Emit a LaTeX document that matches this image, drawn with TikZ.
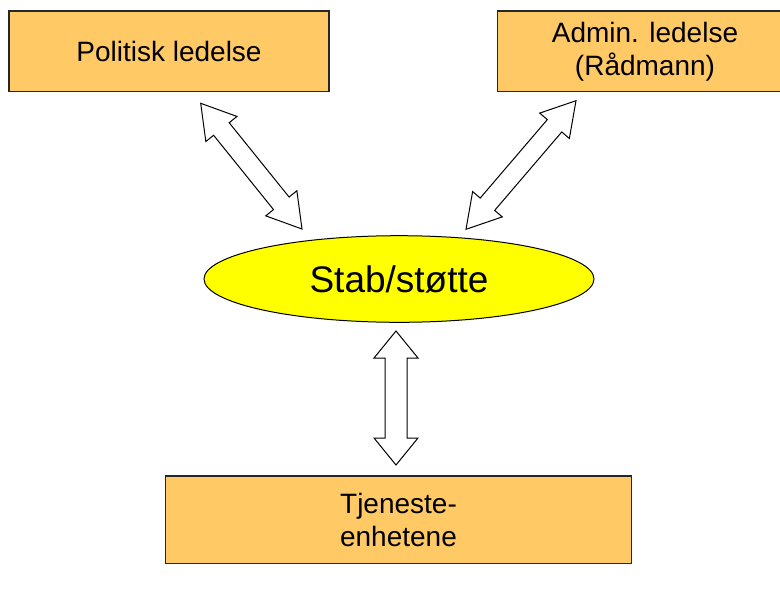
\documentclass[tikz,border=0pt]{standalone}
\usepackage{fontspec}
\setmainfont{Liberation Sans}
\usetikzlibrary{shapes.geometric,calc}
\definecolor{boxfill}{HTML}{FFC966}
\definecolor{ellfill}{HTML}{FFFF00}
\tikzset{
  orgbox/.style={draw=black!85, line width=1.2pt, fill=boxfill, inner sep=0pt,
    align=center, font=\fontsize{28}{33}\selectfont},
  stabell/.style={ellipse, draw=black, line width=1pt, fill=ellfill, inner sep=0pt,
    minimum width=390pt, minimum height=86.6pt, font=\fontsize{37}{40}\selectfont},
  hollowarrow/.style={draw=black, line width=1pt, fill=white, line join=miter}
}
\newcommand\fatdblarrow[5]{%
  \coordinate (p1) at ($(#1)!#3!(#2)$);
  \coordinate (p2) at ($(#2)!#3!(#1)$);
  \draw[hollowarrow] (#1) -- ($(p1)!#4!90:(#2)$) -- ($(p1)!#5!90:(#2)$)
    -- ($(p2)!#5!-90:(#1)$) -- ($(p2)!#4!-90:(#1)$) -- (#2)
    -- ($(p2)!#4!90:(#1)$) -- ($(p2)!#5!90:(#1)$)
    -- ($(p1)!#5!-90:(#2)$) -- ($(p1)!#4!-90:(#2)$) -- cycle;}
\begin{document}
\begin{tikzpicture}[x=1pt,y=-1pt]
  \useasboundingbox (0,0) rectangle (780,595);
  \fill[white] (0,0) rectangle (780,595);
  \node[orgbox, minimum width=320pt, minimum height=80.7pt] (pol) at (169,51.3) {Politisk ledelse};
  \node[orgbox, minimum width=295.7pt, minimum height=80.7pt] (adm) at (645,51.3) {Admin. ledelse\\(Rådmann)};
  \node[orgbox, minimum width=466.4pt, minimum height=87.3pt] (tje) at (398.5,519.7) {Tjeneste-\\enhetene};
  \node[stabell] (stab) at (399,279) {Stab/støtte};
  \coordinate (a1) at (200.7,103.3);
  \coordinate (a2) at (302,229);
  \coordinate (b1) at (576,100.7);
  \coordinate (b2) at (466,229.3);
  \coordinate (c1) at (396,331);
  \coordinate (c2) at (396,465);
  \fatdblarrow{a1}{a2}{33pt}{20pt}{10pt}
  \fatdblarrow{b1}{b2}{33pt}{19.5pt}{9.5pt}
  \fatdblarrow{c1}{c2}{27pt}{22pt}{11pt}
\end{tikzpicture}
\end{document}
